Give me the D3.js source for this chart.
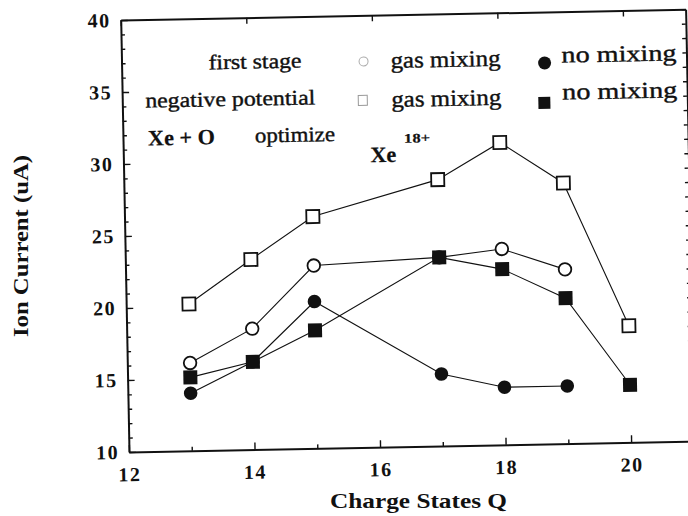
<!DOCTYPE html>
<html>
<head>
<meta charset="utf-8">
<script src="https://cdn.jsdelivr.net/npm/d3@7"></script>
<style>
  body { margin: 0; background: #fff; }
  svg { display: block; }
  text { font-family: "Liberation Serif", "DejaVu Serif", serif; }
</style>
</head>
<body>
<div id="chart"></div>
<script>
// values
var charge = [13, 14, 15, 17, 18, 19, 20];
var negGasMix = [20.2, 23.2, 26.1, 28.5, 31.0, 28.1, 18.1];   // open squares
var negNoMix = [15.1, 16.1, 18.2, 23.1, 22.2, 20.1, 14.0];    // filled squares
var firstGasMix = [16.1, 18.4, 22.7, 23.1, 23.6, 22.1, null]; // open circles
var firstNoMix = [14.0, 16.1, 20.2, 15.0, 14.0, 14.0, null];  // filled circles
var xLabels = [12, 14, 16, 18, 20];
var yLabels = [10, 15, 20, 25, 30, 35, 40];

var width = 688,
    height = 516,
    plotW = 565,
    plotH = 432,
    tilt = -1.1; // the scan is slightly rotated

var svg = d3.select("#chart").append("svg")
  .attr("width", width)
  .attr("height", height);

var xScale = d3.scaleLinear().domain([12, 21]).range([0, plotW]);
var yScale = d3.scaleLinear().domain([10, 40]).range([plotH, 0]);

// everything inside the frame sits in one tilted group
var g = svg.append("g")
  .attr("transform", "translate(129,452) rotate(" + tilt + ") translate(0," + (-plotH) + ")");

function rows(vals) {
  return charge.map(function(q, i) { return { q: q, v: vals[i] }; })
    .filter(function(d) { return d.v != null; });
}

// bottom axis
var xAxis = g.append("g")
  .attr("transform", "translate(0," + plotH + ")")
  .call(d3.axisBottom(xScale)
    .tickValues(d3.range(12, 21))
    .tickSizeInner(-4)
    .tickSizeOuter(0)
    .tickPadding(15)
    .tickFormat(function(d) { return xLabels.indexOf(d) >= 0 ? d : ""; }));
xAxis.selectAll(".tick line").attr("y2", function(d) { return d % 2 ? -4 : -7; });

// left axis
var yAxis = g.append("g")
  .call(d3.axisLeft(yScale)
    .tickValues(d3.range(10, 41))
    .tickSizeInner(-4)
    .tickSizeOuter(0)
    .tickPadding(10)
    .tickFormat(function(d) { return yLabels.indexOf(d) >= 0 ? d : ""; }));
yAxis.selectAll(".tick line").attr("x2", function(d) { return d % 5 ? 4 : 7; });

// top and right axes, ticks only
g.append("g")
  .call(d3.axisTop(xScale).tickValues(xLabels).tickSizeInner(-6).tickSizeOuter(0).tickFormat(""));
g.append("g")
  .attr("transform", "translate(" + plotW + ",0)")
  .call(d3.axisRight(yScale).tickValues(d3.range(10, 41)).tickSizeInner(-4).tickSizeOuter(0).tickFormat(""));

g.selectAll(".domain").attr("stroke", "#111").attr("stroke-width", 2);
g.selectAll(".tick line").attr("stroke", "#111").attr("stroke-width", 1.4);
g.selectAll(".tick text")
  .attr("fill", "#111")
  .attr("font-family", null)
  .attr("font-size", 20)
  .attr("font-weight", "bold")
  .attr("letter-spacing", 1.5);

// series lines
var line = d3.line()
  .x(function(d) { return xScale(d.q); })
  .y(function(d) { return yScale(d.v); });

[firstGasMix, firstNoMix, negGasMix, negNoMix].forEach(function(vals) {
  g.append("path")
    .datum(rows(vals))
    .attr("fill", "none")
    .attr("stroke", "#111")
    .attr("stroke-width", 1.1)
    .attr("d", line);
});

// markers
var box = 13;

g.selectAll(".opencircle").data(rows(firstGasMix)).enter()
  .append("circle")
    .attr("cx", function(d) { return xScale(d.q); })
    .attr("cy", function(d) { return yScale(d.v); })
    .attr("r", 6.3)
    .attr("fill", "#fff")
    .attr("stroke", "#111")
    .attr("stroke-width", 1.8);

g.selectAll(".opensquare").data(rows(negGasMix)).enter()
  .append("rect")
    .attr("x", function(d) { return xScale(d.q) - box / 2; })
    .attr("y", function(d) { return yScale(d.v) - box / 2; })
    .attr("width", box)
    .attr("height", box)
    .attr("fill", "#fff")
    .attr("stroke", "#111")
    .attr("stroke-width", 1.8);

g.selectAll(".fullcircle").data(rows(firstNoMix)).enter()
  .append("circle")
    .attr("cx", function(d) { return xScale(d.q); })
    .attr("cy", function(d) { return yScale(d.v); })
    .attr("r", 6.8)
    .attr("fill", "#111");

g.selectAll(".fullsquare").data(rows(negNoMix)).enter()
  .append("rect")
    .attr("x", function(d) { return xScale(d.q) - box / 2 - 0.5; })
    .attr("y", function(d) { return yScale(d.v) - box / 2 - 0.5; })
    .attr("width", box + 1)
    .attr("height", box + 1)
    .attr("fill", "#111");

// notes and legend, also tilted; thin stroke mimics the heavy scan ink
function note(txt, px, py, size, len, bold) {
  return g.append("text")
    .attr("x", px)
    .attr("y", py)
    .attr("textLength", len)
    .attr("lengthAdjust", "spacingAndGlyphs")
    .attr("fill", "#111")
    .attr("stroke", "#111")
    .attr("stroke-width", bold ? 0.2 : 0.4)
    .attr("font-size", size)
    .attr("font-weight", bold ? "bold" : "normal")
    .text(txt);
}

note("first stage", 87, 51, 21, 93, false);
note("negative potential", 23, 88, 21, 170, false);
note("Xe + O", 25, 126, 22, 67, true);
note("optimize", 132, 125, 21, 80, false);
note("Xe", 247, 147, 22, 26, true);
note("18+", 281, 128, 13, 26, true);

note("gas mixing", 269, 53, 23, 110, false);
note("no mixing", 440, 51, 23, 115, false);
note("gas mixing", 269, 92, 23, 110, false);
note("no mixing", 440, 88, 23, 115, false);

// legend keys (the open ones are faint in the scan)
g.append("circle").attr("cx", 242).attr("cy", 46).attr("r", 4.5)
  .attr("fill", "none").attr("stroke", "#aaa").attr("stroke-width", 1);
g.append("rect").attr("x", 236).attr("y", 80).attr("width", 9).attr("height", 10)
  .attr("fill", "none").attr("stroke", "#999").attr("stroke-width", 1);
g.append("circle").attr("cx", 423).attr("cy", 51).attr("r", 6.5).attr("fill", "#111");
g.append("rect").attr("x", 416).attr("y", 85).attr("width", 12).attr("height", 12).attr("fill", "#111");

// axis titles
svg.append("text")
  .attr("x", 330)
  .attr("y", 508)
  .attr("textLength", 177)
  .attr("lengthAdjust", "spacingAndGlyphs")
  .attr("fill", "#111")
  .attr("font-size", 22)
  .attr("font-weight", "bold")
  .text("Charge States Q");

svg.append("text")
  .attr("transform", "translate(28,337) rotate(-90)")
  .attr("textLength", 182)
  .attr("lengthAdjust", "spacingAndGlyphs")
  .attr("fill", "#111")
  .attr("font-size", 21)
  .attr("font-weight", "bold")
  .text("Ion Current (uA)");
</script>
</body>
</html>
